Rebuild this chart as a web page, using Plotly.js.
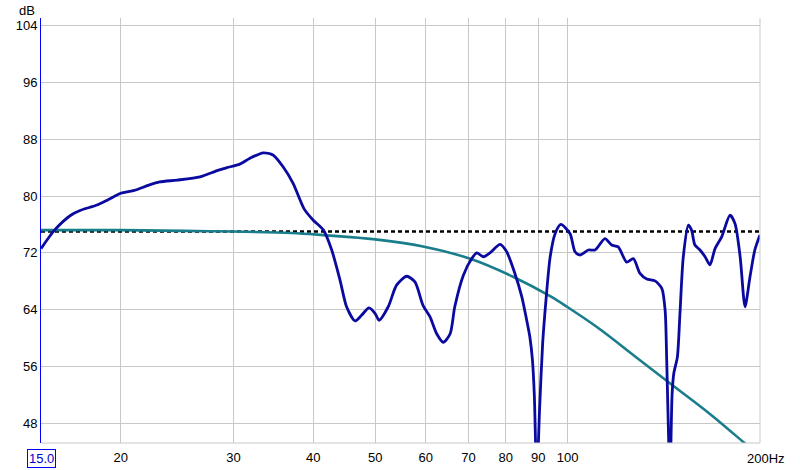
<!DOCTYPE html>
<html>
<head>
<meta charset="utf-8">
<script src="https://cdn.plot.ly/plotly-3.0.1.min.js"></script>
<style>html,body{margin:0;padding:0;background:#fff;}#chart{width:800px;height:470px;}</style>
</head>
<body>
<div id="chart"></div>
<script>
// Measured response (dark blue)
const measFreq = [15.0, 15.75, 16.7, 17.3, 18.3, 19.1, 20.0, 21.0, 22.05, 23.0, 24.5, 26.6, 28.3, 29.3, 30.7, 31.8, 33.4, 34.6, 35.9, 37.2, 38.7, 40.0, 41.5, 42.75, 44.05, 45.1, 46.5, 47.6, 48.9, 50.0, 50.7, 52.4, 54.0, 56.0, 57.7, 59.4, 60.9, 62.4, 63.9, 65.5, 66.6, 68.7, 70.8, 72.1, 73.8, 75.6, 78.4, 80.3, 82.7, 84.8, 86.3, 87.3, 88.1, 88.7, 89.5, 90.4, 91.4, 92.5, 93.9, 95.6, 97.6, 100.9, 102.7, 104.6, 107.8, 110.4, 114.4, 117.2, 120.0, 123.7, 126.7, 129.8, 133.0, 137.0, 140.4, 142.1, 142.9, 143.7, 144.6, 145.7, 146.6, 148.5, 149.9, 151.7, 154.5, 156.3, 158.2, 161.1, 164.1, 167.0, 170.1, 174.2, 179.5, 182.8, 186.2, 189.5, 192.9, 196.3, 200.0];
const measDb = [72.6, 75.2, 77.3, 78.0, 78.7, 79.5, 80.4, 80.8, 81.5, 82.0, 82.25, 82.7, 83.6, 84.0, 84.5, 85.3, 86.1, 85.8, 84.1, 81.8, 78.2, 76.6, 75.2, 72.4, 68.15, 64.4, 62.4, 63.2, 64.25, 63.45, 62.5, 64.4, 67.45, 68.7, 67.9, 64.6, 63.0, 60.6, 59.4, 60.6, 64.4, 68.85, 71.2, 72.0, 71.45, 72.0, 73.2, 72.15, 69.1, 65.8, 62.5, 60.1, 56.9, 52.0, 40.0, 50.0, 59.2, 65.3, 71.4, 74.7, 76.0, 74.7, 72.15, 71.7, 72.4, 72.4, 74.0, 73.1, 72.85, 70.7, 71.2, 69.1, 68.3, 68.05, 67.0, 63.9, 57.0, 48.0, 40.0, 52.0, 55.0, 57.3, 63.45, 71.4, 75.9, 75.2, 73.1, 72.4, 71.45, 70.3, 72.6, 74.25, 77.3, 76.1, 71.45, 64.4, 68.6, 72.4, 74.5];

// Target curve (teal)
const targetFreq = [15, 20, 25, 30, 37, 41.5, 50, 59.4, 70.8, 82.3, 93.9, 99.8, 112.9, 126.7, 143.7, 167, 188.5, 200];
const targetDb = [75.2, 75.2, 75.1, 75.0, 74.8, 74.5, 73.9, 72.9, 71.1, 68.6, 65.9, 64.4, 61.1, 57.6, 53.8, 49.3, 45.3, 43.3];

// Reference level (dotted black)
const refFreq = [15, 200];
const refDb = [75.0, 75.0];

// Axis ticks
const xTickVals = [20, 30, 40, 50, 60, 70, 80, 90, 100];
const xTickText = ['20', '30', '40', '50', '60', '70', '80', '90', '100'];
const yTickVals = [48, 56, 64, 72, 80, 88, 96, 104];
const yTickText = ['48', '56', '64', '72', '80', '88', '96', '104'];

const font = {family: 'Liberation Sans, Arial, sans-serif', size: 13, color: '#000'};

const traces = [
  {x: refFreq, y: refDb, mode: 'lines', line: {color: '#000000', width: 2.5, dash: '4px,3px'}, hoverinfo: 'skip'},
  {x: targetFreq, y: targetDb, mode: 'lines', line: {color: 'rgb(25,125,140)', width: 2.6, shape: 'spline', smoothing: 1}, hoverinfo: 'skip'},
  {x: measFreq, y: measDb, mode: 'lines', line: {color: 'rgb(10,10,160)', width: 2.8, shape: 'spline', smoothing: 0.7}, hoverinfo: 'skip'}
];

const layout = {
  width: 800, height: 470,
  margin: {l: 41, r: 40, t: 18, b: 27, pad: 0},
  paper_bgcolor: '#ffffff', plot_bgcolor: '#ffffff',
  showlegend: false,
  font: font,
  xaxis: {
    type: 'log', range: [Math.log10(15), Math.log10(200)],
    tickvals: xTickVals, ticktext: xTickText,
    showgrid: true, gridcolor: '#c8c8c8', gridwidth: 1,
    zeroline: false, showline: false, ticks: '', tickfont: font,
    ticklabelstandoff: 5
  },
  yaxis: {
    range: [45.2, 105.1],
    tickvals: yTickVals, ticktext: yTickText,
    showgrid: true, gridcolor: '#c8c8c8', gridwidth: 1,
    zeroline: false, showline: true, linecolor: '#0000ff', linewidth: 1,
    ticks: '', tickfont: font
  },
  shapes: [
    {type: 'line', xref: 'paper', yref: 'paper', x0: 1, x1: 1, y0: 0, y1: 1, line: {color: '#c8c8c8', width: 1}},
    {type: 'line', xref: 'paper', yref: 'paper', x0: 0, x1: 1, y0: 0, y1: 0, line: {color: '#c8c8c8', width: 1}}
  ],
  annotations: [
    {xref: 'paper', yref: 'paper', x: -0.006, y: 1.0, xanchor: 'right', yanchor: 'bottom', text: 'dB', showarrow: false, font: font, yshift: -2},
    {xref: 'paper', yref: 'paper', x: 0, y: 0, xanchor: 'center', yanchor: 'top', text: '15.0', showarrow: false,
     font: {family: font.family, size: 13, color: '#0000cc'}, bordercolor: '#0000ff', borderwidth: 1, borderpad: 1, yshift: -6},
    {xref: 'paper', yref: 'paper', x: 0.9795, y: 0, xanchor: 'left', yanchor: 'top', text: '200Hz', showarrow: false, font: font, yshift: -6}
  ]
};

Plotly.newPlot('chart', traces, layout, {staticPlot: true, displayModeBar: false});
</script>
</body>
</html>
